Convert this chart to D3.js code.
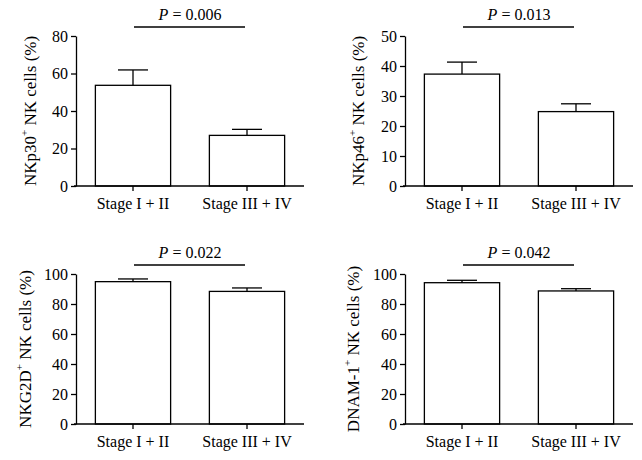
<!DOCTYPE html>
<html>
<head>
<meta charset="utf-8">
<script src="https://cdn.jsdelivr.net/npm/d3@7"></script>
<style>
  body { margin: 0; background: #fff; }
  svg { display: block; }
  text { font-family: "Liberation Serif", "DejaVu Serif", serif; fill: #000; }
</style>
</head>
<body>
<div id="chart"></div>
<script>
// data
const groups = ["Stage I + II", "Stage III + IV"];

const nkp30Mean = [53.7, 27.0];
const nkp30Err = [8.2, 3.2];
const nkp46Mean = [37.3, 24.8];
const nkp46Err = [4.0, 2.6];
const nkg2dMean = [94.9, 88.4];
const nkg2dErr = [1.8, 2.3];
const dnamMean = [94.2, 88.7];
const dnamErr = [1.6, 1.5];

const pValues = ["0.006", "0.013", "0.022", "0.042"];
const yMaxes = [80, 50, 100, 100];
const yTickSteps = [20, 10, 20, 20];
const markers = ["NKp30", "NKp46", "NKG2D", "DNAM-1"];

const panels = [
  {mean: nkp30Mean, err: nkp30Err, left: 76, top: 36, labelOff: -46},
  {mean: nkp46Mean, err: nkp46Err, left: 405, top: 36, labelOff: -47},
  {mean: nkg2dMean, err: nkg2dErr, left: 76, top: 274, labelOff: -51},
  {mean: dnamMean, err: dnamErr, left: 405, top: 274, labelOff: -52}
];

const W = 642, H = 460;
const plotW = 228, plotH = 150;
const serif = '"Liberation Serif", "DejaVu Serif", serif';

const svg = d3.select("#chart").append("svg")
  .attr("width", W)
  .attr("height", H);

panels.forEach((p, i) => {
  const g = svg.append("g").attr("transform", `translate(${p.left},${p.top})`);

  const x = d3.scaleBand()
    .domain(groups)
    .range([0, plotW])
    .paddingInner(0.34)
    .paddingOuter(0.17);

  const y = d3.scaleLinear()
    .domain([0, yMaxes[i]])
    .range([plotH, 0]);

  const data = groups.map((gr, j) => ({group: gr, mean: p.mean[j], err: p.err[j]}));

  // bars
  g.selectAll("rect.bar")
    .data(data)
    .join("rect")
      .attr("class", "bar")
      .attr("x", d => x(d.group))
      .attr("y", d => y(d.mean))
      .attr("width", x.bandwidth())
      .attr("height", d => plotH - y(d.mean))
      .attr("fill", "#fff")
      .attr("stroke", "#000")
      .attr("stroke-width", 1.3);

  // upper error bars
  const capHalf = 15;
  g.selectAll("line.err")
    .data(data)
    .join("line")
      .attr("class", "err")
      .attr("x1", d => x(d.group) + x.bandwidth() / 2)
      .attr("x2", d => x(d.group) + x.bandwidth() / 2)
      .attr("y1", d => y(d.mean))
      .attr("y2", d => y(d.mean + d.err))
      .attr("stroke", "#000")
      .attr("stroke-width", 1.3);
  g.selectAll("line.cap")
    .data(data)
    .join("line")
      .attr("class", "cap")
      .attr("x1", d => x(d.group) + x.bandwidth() / 2 - capHalf)
      .attr("x2", d => x(d.group) + x.bandwidth() / 2 + capHalf)
      .attr("y1", d => y(d.mean + d.err))
      .attr("y2", d => y(d.mean + d.err))
      .attr("stroke", "#000")
      .attr("stroke-width", 1.3);

  // axes
  const yAxis = g.append("g")
    .call(d3.axisLeft(y)
      .tickValues(d3.range(0, yMaxes[i] + 1, yTickSteps[i]))
      .tickSize(5)
      .tickSizeOuter(0)
      .tickPadding(3));
  const xAxis = g.append("g")
    .attr("transform", `translate(0,${plotH})`)
    .call(d3.axisBottom(x).tickSize(5).tickSizeOuter(0).tickPadding(7));

  [yAxis, xAxis].forEach(a => {
    a.attr("font-family", serif).attr("font-size", 16);
    a.selectAll("path, line").attr("stroke", "#000").attr("stroke-width", 1.3);
    a.selectAll("text").attr("fill", "#000");
  });
  // x axis line reaches slightly left of the y axis
  xAxis.select("path.domain").attr("d", `M-2,0H${plotW}`);

  // y label
  const lab = g.append("text")
    .attr("transform", `translate(${p.labelOff},${plotH / 2}) rotate(-90)`)
    .attr("text-anchor", "middle")
    .attr("dominant-baseline", "central")
    .style("font-size", "17px");
  lab.append("tspan").text(markers[i]);
  lab.append("tspan").attr("baseline-shift", "super").style("font-size", "11px").text("+");
  lab.append("tspan").text(" NK cells (%)");

  // significance bracket
  const c1 = x(groups[0]) + x.bandwidth() / 2;
  const c2 = x(groups[1]) + x.bandwidth() / 2;
  g.append("line")
    .attr("x1", c1 + 1).attr("x2", c2 - 2)
    .attr("y1", -9).attr("y2", -9)
    .attr("stroke", "#000").attr("stroke-width", 1.3);
  const pt = g.append("text")
    .attr("x", (c1 + c2) / 2)
    .attr("y", -16)
    .attr("text-anchor", "middle")
    .style("font-size", "16px");
  pt.append("tspan").style("font-style", "italic").text("P");
  pt.append("tspan").text(" = " + pValues[i]);
});
</script>
</body>
</html>
